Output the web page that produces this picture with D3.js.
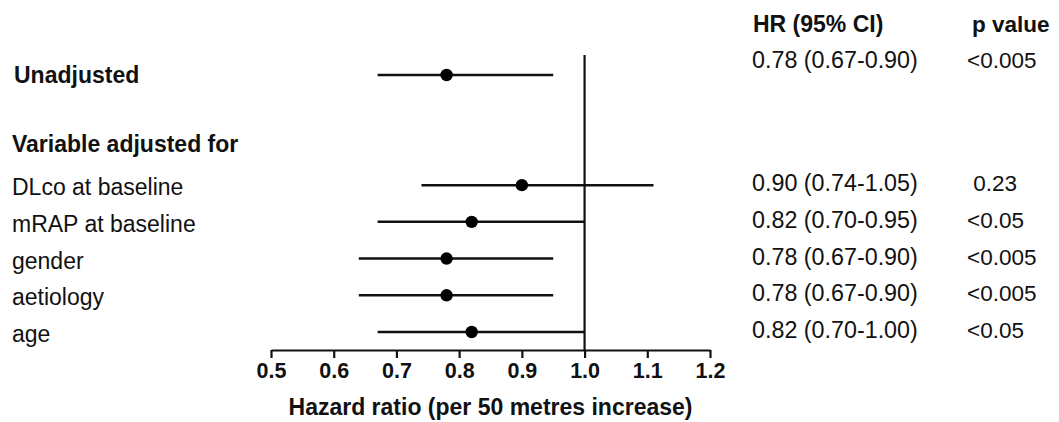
<!DOCTYPE html>
<html>
<head>
<meta charset="utf-8">
<script src="https://cdn.jsdelivr.net/npm/d3@7"></script>
<style>
  html, body { margin: 0; padding: 0; background: #fff; }
  svg { display: block; font-family: "Liberation Sans", Arial, sans-serif; }
  text { white-space: pre; fill: #111; }
</style>
</head>
<body>
<svg id="chart" width="1059" height="422"></svg>
<script>
// Forest plot: hazard ratio per 50 metres increase, unadjusted and adjusted models
const labels  = ["Unadjusted", "DLco at baseline", "mRAP at baseline", "gender", "aetiology", "age"];
const hr      = [0.78, 0.90, 0.82, 0.78, 0.78, 0.82];
const ciLow   = [0.67, 0.74, 0.67, 0.64, 0.64, 0.67];
const ciHigh  = [0.95, 1.11, 1.00, 0.95, 0.95, 1.00];
const hrText  = ["0.78 (0.67-0.90)", "0.90 (0.74-1.05)", "0.82 (0.70-0.95)",
                 "0.78 (0.67-0.90)", "0.78 (0.67-0.90)", "0.82 (0.70-1.00)"];
const pText   = ["<0.005", " 0.23", "<0.05", "<0.005", "<0.005", "<0.05"];
const tickValues = [0.5, 0.6, 0.7, 0.8, 0.9, 1.0, 1.1, 1.2];

const svg = d3.select("#chart");

// Row slots: slot 0 = unadjusted, slot 2 = section heading, slots 3.. = adjusted rows
const slotOf = i => i === 0 ? 0 : i + 2;
const x = d3.scaleLinear().domain([0.5, 1.2]).range([271, 710]);
const y = d3.scaleLinear().domain([0, 7]).range([75, 332]);
const axisY = 350;

// Reference line at HR = 1
svg.append("line")
  .attr("x1", x(1)).attr("x2", x(1))
  .attr("y1", 55).attr("y2", axisY)
  .attr("stroke", "#111").attr("stroke-width", 2.2);

// Confidence interval whiskers and point estimates
const rows = svg.append("g").selectAll("g").data(labels).join("g");
rows.append("line")
  .attr("x1", (d, i) => x(ciLow[i]))
  .attr("x2", (d, i) => x(ciHigh[i]))
  .attr("y1", (d, i) => y(slotOf(i)))
  .attr("y2", (d, i) => y(slotOf(i)))
  .attr("stroke", "#111").attr("stroke-width", 2.5);
rows.append("circle")
  .attr("cx", (d, i) => x(hr[i]))
  .attr("cy", (d, i) => y(slotOf(i)))
  .attr("r", 6.2)
  .attr("fill", "#000");

// Row labels
rows.append("text")
  .attr("x", (d, i) => i === 0 ? 14 : 12)
  .attr("y", (d, i) => y(slotOf(i)) + (i === 0 ? 8 : 10))
  .attr("font-size", 23)
  .attr("font-weight", (d, i) => i === 0 ? "bold" : "normal")
  .text(d => d);

svg.append("text")
  .attr("x", 12).attr("y", 152)
  .attr("font-size", 23).attr("font-weight", "bold")
  .text("Variable adjusted for");

// Table columns
svg.append("text").attr("x", 753).attr("y", 32)
  .attr("font-size", 23).attr("font-weight", "bold").text("HR (95% CI)");
svg.append("text").attr("x", 972).attr("y", 32)
  .attr("font-size", 22.5).attr("font-weight", "bold").text("p value");

rows.append("text")
  .attr("x", 752)
  .attr("y", (d, i) => i === 0 ? y(0) - 7 : y(slotOf(i)) + 6)
  .attr("font-size", 23.3)
  .text((d, i) => hrText[i]);
rows.append("text")
  .attr("x", 967)
  .attr("y", (d, i) => i === 0 ? y(0) - 7 : y(slotOf(i)) + 6)
  .attr("font-size", 22.5)
  .text((d, i) => pText[i]);

// X axis
const axis = d3.axisBottom(x)
  .tickValues(tickValues)
  .tickFormat(d3.format(".1f"))
  .tickSizeInner(8)
  .tickSizeOuter(0)
  .tickPadding(5);
const gAxis = svg.append("g")
  .attr("transform", `translate(0,${axisY})`)
  .call(axis);
gAxis.select(".domain").attr("stroke", "#111").attr("stroke-width", 2.2);
gAxis.selectAll(".tick line").attr("stroke", "#111").attr("stroke-width", 2.2);
gAxis.selectAll(".tick text")
  .attr("fill", "#111")
  .attr("font-size", 21.5)
  .attr("font-weight", "bold")
  .attr("font-family", "'Liberation Sans', Arial, sans-serif");

svg.append("text")
  .attr("x", x(0.85)).attr("y", 415)
  .attr("text-anchor", "middle")
  .attr("font-size", 23).attr("font-weight", "bold")
  .text("Hazard ratio (per 50 metres increase)");
</script>
</body>
</html>
